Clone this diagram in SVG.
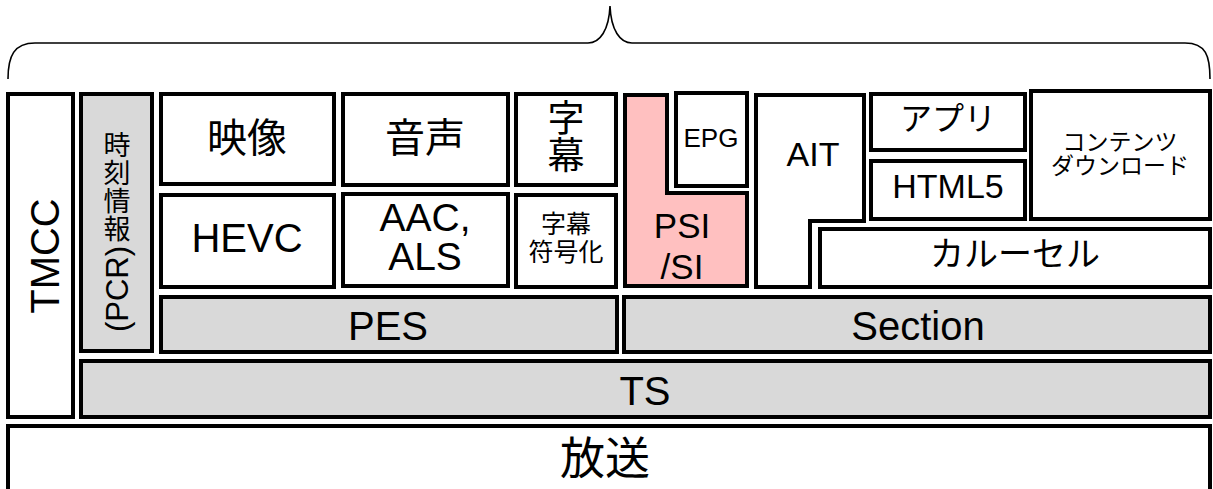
<svg xmlns="http://www.w3.org/2000/svg" width="1213" height="489" viewBox="0 0 1213 489">
<style>
.b{stroke:#000;stroke-width:4;fill:#fff;stroke-linejoin:miter}
.g{fill:#d9d9d9}
.p{fill:#ffc0c0}
text{font-family:"Liberation Sans","Noto Sans CJK JP",sans-serif;fill:#000;text-anchor:middle}
.brace{fill:none;stroke:#000;stroke-width:1.6}
</style>
<g id="brace">
<path class="brace" d="M8,79 C8,56 14,43 35,43 L588,43 C600,43 609,30 610,6 C611,30 620,43 632,43 L1185,43 C1206,43 1210,56 1210,79"/>
</g>
<g id="broadcast"><rect class="b" x="8" y="426" width="1202" height="80"/><text x="605" y="475" font-size="45">放送</text></g>
<g id="tmcc"><rect class="b" x="8" y="94" width="65" height="323"/><text transform="translate(59,256) rotate(-90)" font-size="40">TMCC</text></g>
<g id="ts"><rect class="b g" x="81" y="361" width="1129" height="56"/><text x="645" y="405" font-size="40">TS</text></g>
<g id="pcr"><rect class="b g" x="81" y="94" width="71" height="257"/>
<text font-size="27"><tspan x="117" y="155">時</tspan><tspan x="117" y="183">刻</tspan><tspan x="117" y="211">情</tspan><tspan x="117" y="239">報</tspan></text>
<text transform="translate(128,289) rotate(-90)" font-size="31">(PCR)</text></g>
<g id="pes"><rect class="b g" x="161" y="297" width="456" height="55"/><text x="388" y="340" font-size="40">PES</text></g>
<g id="section"><rect class="b g" x="624" y="297" width="586" height="55"/><text x="918" y="340" font-size="40">Section</text></g>
<g id="video"><rect class="b" x="161" y="94" width="173" height="90"/><text x="247" y="152" font-size="40">映像</text></g>
<g id="hevc"><rect class="b" x="161" y="195" width="173" height="92"/><text x="247" y="252" font-size="40">HEVC</text></g>
<g id="audio"><rect class="b" x="343" y="94" width="165" height="91"/><text x="425" y="152" font-size="40">音声</text></g>
<g id="aac"><rect class="b" x="343" y="194" width="165" height="92"/><text font-size="39"><tspan x="425" y="231">AAC,</tspan><tspan x="425" y="270">ALS</tspan></text></g>
<g id="subtitle"><rect class="b" x="516" y="94" width="100" height="91"/><text font-size="37"><tspan x="566" y="132">字</tspan><tspan x="566" y="169">幕</tspan></text></g>
<g id="subcode"><rect class="b" x="516" y="195" width="100" height="92"/><text font-size="25"><tspan x="566" y="233">字幕</tspan><tspan x="566" y="261">符号化</tspan></text></g>
<g id="psisi"><polygon class="b p" points="625,95 667,95 667,193 747,193 747,286 625,286"/><text font-size="35"><tspan x="682" y="238">PSI</tspan><tspan x="682" y="279">/SI</tspan></text></g>
<g id="epg"><rect class="b" x="676" y="93" width="71" height="93"/><text x="711" y="147" font-size="26">EPG</text></g>
<g id="ait"><polygon class="b" points="756,95 864,95 864,221 810,221 810,287 756,287"/><text x="813" y="166" font-size="34">AIT</text></g>
<g id="carousel"><rect class="b" x="820" y="229" width="390" height="58"/><text x="1015" y="266" font-size="34">カルーセル</text></g>
<g id="app"><rect class="b" x="871" y="94" width="154" height="56"/><text x="948" y="130" font-size="32">アプリ</text></g>
<g id="html5"><rect class="b" x="871" y="161" width="154" height="58"/><text x="948" y="198" font-size="34">HTML5</text></g>
<g id="download"><rect class="b" x="1031" y="91" width="179" height="128"/><text font-size="23"><tspan x="1120" y="150">コンテンツ</tspan><tspan x="1120" y="174">ダウンロード</tspan></text></g>
</svg>
